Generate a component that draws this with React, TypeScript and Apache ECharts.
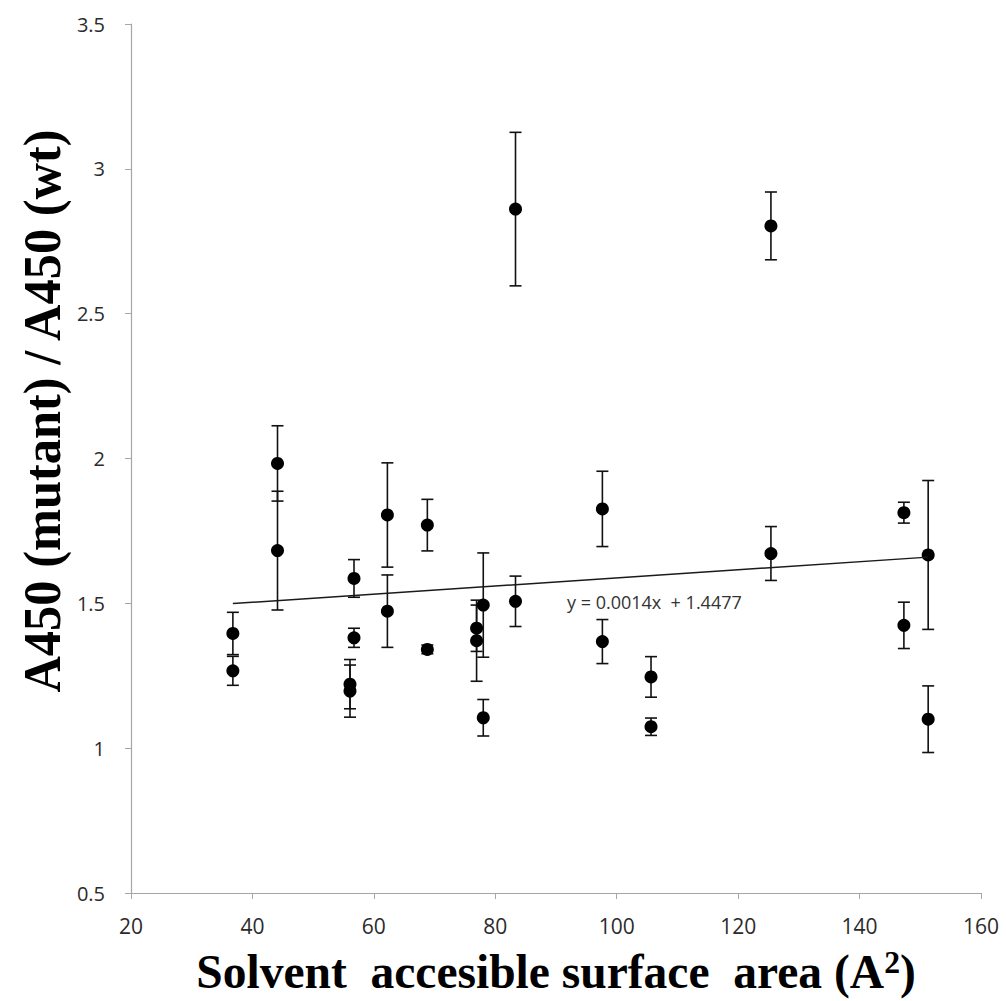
import React, { useEffect, useRef } from "react";
import * as echarts from "echarts";

// Solvent accessible surface area (x) for each measurement
const xValues = [
  36.78, 36.78, 44.13, 44.13, 56.07, 56.07, 56.73, 56.73, 62.23, 62.23,
  68.81, 68.81, 76.92, 76.92, 78.02, 78.02, 83.33, 83.33, 97.64, 97.64,
  105.65, 105.65, 125.4, 125.4, 147.3, 147.3, 151.3, 151.3,
];
// A450(mutant)/A450(wt)
const yValues = [
  1.396, 1.267, 1.983, 1.682, 1.221, 1.197, 1.586, 1.381, 1.805, 1.473,
  1.77, 1.341, 1.414, 1.371, 1.494, 1.105, 2.861, 1.507, 1.826, 1.368,
  1.246, 1.074, 2.803, 1.672, 1.813, 1.424, 1.667, 1.1,
];
// symmetric error (± value)
const errValues = [
  0.073, 0.05, 0.13, 0.205, 0.085, 0.09, 0.065, 0.033, 0.18, 0.125,
  0.089, 0.015, 0.08, 0.14, 0.18, 0.063, 0.265, 0.087, 0.13, 0.076,
  0.07, 0.03, 0.117, 0.093, 0.036, 0.08, 0.257, 0.115,
];
// linear trend line y = slope * x + intercept
const trendSlope = 0.0014;
const trendIntercept = 1.4477;
const trendXRange = [36.78, 151.3];
const trendLabel = "y = 0.0014x  + 1.4477";

const xTicks = { min: 20, max: 160, interval: 20 };
const yTicks = { min: 0.5, max: 3.5, interval: 0.5 };

export default function App() {
  const ref = useRef<HTMLDivElement>(null);
  useEffect(() => {
    if (!ref.current) return;
    const chart = echarts.init(ref.current, null, { renderer: "svg" });
    const points = xValues.map((x, i) => [x, yValues[i]]);
    const errs = xValues.map((x, i) => [x, yValues[i] - errValues[i], yValues[i] + errValues[i]]);
    const trend = trendXRange.map((x) => [x, trendSlope * x + trendIntercept]);
    const axisGray = "#a6a6a6";
    const labelColor = "#2b2b2b";
    const serif = "Liberation Serif";
    chart.setOption({
      animation: false,
      grid: { left: 131, right: 25, top: 24, bottom: 108 },
      xAxis: {
        type: "value",
        min: xTicks.min,
        max: xTicks.max,
        interval: xTicks.interval,
        splitLine: { show: false },
        axisLine: { lineStyle: { color: axisGray, width: 1.2 } },
        axisTick: { show: true, length: 6, lineStyle: { color: axisGray } },
        axisLabel: { color: labelColor, fontSize: 21, fontFamily: "Open Sans", margin: 22 },
      },
      yAxis: {
        type: "value",
        min: yTicks.min,
        max: yTicks.max,
        interval: yTicks.interval,
        splitLine: { show: false },
        axisLine: { show: true, lineStyle: { color: axisGray, width: 1.2 } },
        axisTick: { show: true, length: 6, lineStyle: { color: axisGray } },
        axisLabel: { color: labelColor, fontSize: 20, fontFamily: "Open Sans", margin: 26 },
      },
      series: [
        {
          type: "custom",
          data: errs,
          z: 2,
          renderItem: (params: any, api: any) => {
            const x = api.value(0);
            const top = api.coord([x, api.value(2)]);
            const bot = api.coord([x, api.value(1)]);
            const hw = 6;
            const st = { stroke: "#111", lineWidth: 1.6 };
            return {
              type: "group",
              children: [
                { type: "line", shape: { x1: top[0], y1: top[1], x2: bot[0], y2: bot[1] }, style: st },
                { type: "line", shape: { x1: top[0] - hw, y1: top[1], x2: top[0] + hw, y2: top[1] }, style: st },
                { type: "line", shape: { x1: bot[0] - hw, y1: bot[1], x2: bot[0] + hw, y2: bot[1] }, style: st },
              ],
            };
          },
        },
        {
          type: "scatter",
          data: points,
          symbol: "circle",
          symbolSize: 13,
          itemStyle: { color: "#000", opacity: 1 },
          z: 3,
        },
        {
          type: "line",
          data: trend,
          symbol: "none",
          lineStyle: { color: "#1a1a1a", width: 1.5 },
          z: 4,
        },
      ],
      graphic: [
        {
          type: "text",
          left: 567,
          top: 593,
          style: { text: trendLabel, fontSize: 18, fontFamily: "Open Sans", fill: "#333" },
        },
        {
          type: "text",
          x: 42,
          y: 411,
          rotation: Math.PI / 2,
          scaleX: 0.97,
          style: {
            text: "A450 (mutant) / A450 (wt)",
            fontSize: 52,
            fontWeight: "bold",
            fontFamily: serif,
            fill: "#000",
            align: "center",
            verticalAlign: "middle",
          },
        },
        {
          type: "text",
          x: 556,
          y: 971,
          scaleX: 0.99,
          style: {
            text: "{a|Solvent  accesible surface  area (A}{s|2}{a|)}",
            align: "center",
            verticalAlign: "middle",
            rich: {
              a: { fontSize: 48, lineHeight: 50, fontWeight: "bold", fontFamily: serif, fill: "#000" },
              s: {
                fontSize: 32,
                fontWeight: "bold",
                fontFamily: serif,
                fill: "#000",
                padding: [0, 0, 17, 0],
              },
            },
          },
        },
      ],
    });
    return () => chart.dispose();
  }, []);
  return <div ref={ref} style={{ width: 1006, height: 1001, position: "absolute", left: 0, top: 0 }} />;
}
